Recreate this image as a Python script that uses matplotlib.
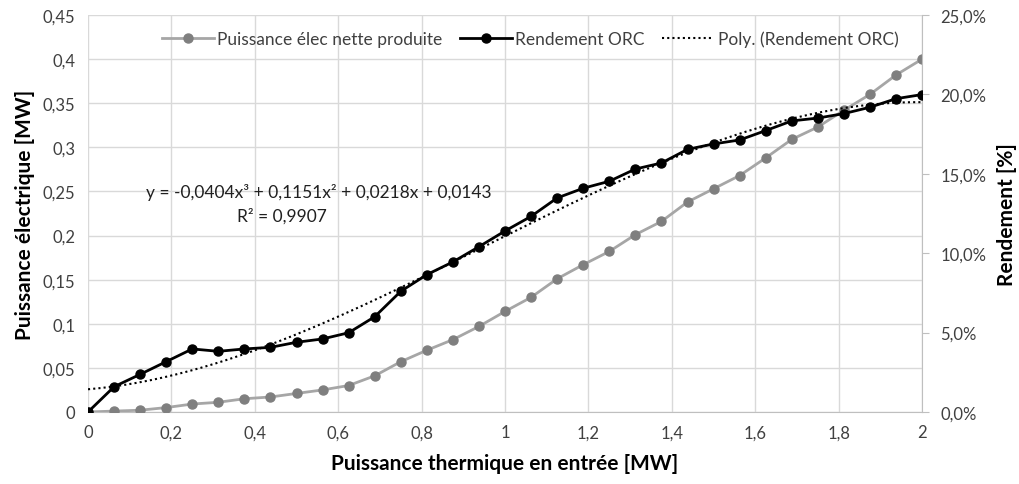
import numpy as np
import matplotlib
matplotlib.use("Agg")
import matplotlib.pyplot as plt
from matplotlib.ticker import FuncFormatter, MultipleLocator

plt.rcParams['font.family'] = ['Lato', 'DejaVu Sans']

# puissance thermique en entrée [MW]
x = np.arange(33) * 0.0625

# puissance électrique nette [MW]
puissance = [0, 0.001, 0.002, 0.005, 0.009, 0.011, 0.015, 0.017, 0.021, 0.025,
             0.030, 0.041, 0.057, 0.070, 0.082, 0.097, 0.114, 0.130, 0.151,
             0.167, 0.182, 0.201, 0.216, 0.238, 0.253, 0.268, 0.288, 0.309,
             0.323, 0.342, 0.360, 0.382, 0.400]

# rendement ORC [fraction]
rendement = [0, 0.0159, 0.0237, 0.0317, 0.0397, 0.0382, 0.0397, 0.0407,
             0.0439, 0.0460, 0.0499, 0.0600, 0.0760, 0.0865, 0.0945, 0.1041,
             0.1140, 0.1232, 0.1348, 0.1409, 0.1453, 0.1530, 0.1568, 0.1654,
             0.1688, 0.1713, 0.1772, 0.1833, 0.1851, 0.1879, 0.1919, 0.1973,
             0.1999]

# coefficients de la courbe de tendance (affichés sur le graphique)
poly_coef = [-0.0404, 0.1151, 0.0218, 0.0143]

fig = plt.figure(figsize=(10.2, 4.85), dpi=100)
ax = fig.add_axes([0.0863, 0.1485, 0.8177, 0.8185])
ax2 = ax.twinx()

ax.set_xlim(0, 2)
ax.set_ylim(0, 0.45)
ax2.set_ylim(0, 0.25)

ax.xaxis.set_major_locator(MultipleLocator(0.2))
ax.yaxis.set_major_locator(MultipleLocator(0.05))
ax2.yaxis.set_major_locator(MultipleLocator(0.05))

def fr(v, pos):
    s = ('%.2f' % v).rstrip('0').rstrip('.')
    return s.replace('.', ',')

ax.xaxis.set_major_formatter(FuncFormatter(fr))
ax.yaxis.set_major_formatter(FuncFormatter(fr))
ax2.yaxis.set_major_formatter(FuncFormatter(lambda v, p: ('%.1f%%' % (v * 100)).replace('.', ',')))

ax.grid(True, color='#D9D9D9', lw=1)
ax.set_axisbelow(True)
for a in (ax, ax2):
    for s in a.spines.values():
        s.set_visible(False)
ax2.spines['right'].set_visible(True)
ax2.spines['right'].set_color('#BFBFBF')
ax.spines['bottom'].set_visible(True)
ax.spines['bottom'].set_color('#BFBFBF')

ax.tick_params(axis='both', length=0, labelsize=12, colors='#404040', pad=9)
ax2.tick_params(axis='y', length=5, color='#BFBFBF', labelsize=12, labelcolor='#404040', pad=8)

l1, = ax.plot(x, puissance, color='#A6A6A6', lw=2, marker='o', ms=6.5,
              mfc='#7F7F7F', mec='#7F7F7F', zorder=3)
xs = np.linspace(0, 2, 200)
l3, = ax2.plot(xs, np.polyval(poly_coef, xs), color='black', lw=1.5, ls=(0, (1, 1.5)), zorder=2)
l2, = ax2.plot(x, rendement, color='black', lw=2, marker='o', ms=6.5, zorder=3)

ax.set_xlabel('Puissance thermique en entrée [MW]', fontsize=15, fontweight='bold', labelpad=9)
ax.set_ylabel('Puissance électrique [MW]', fontsize=15, fontweight='bold', labelpad=6)
ax2.set_ylabel('Rendement [%]', fontsize=15, fontweight='bold', labelpad=8)

ax2.text(0.553, 0.139, 'y = -0,0404x³ + 0,1151x² + 0,0218x + 0,0143',
         ha='center', va='center', fontsize=12.5, color='#202020')
ax2.text(0.464, 0.124, 'R² = 0,9907',
         ha='center', va='center', fontsize=12.5, color='#202020')

leg = ax2.legend([l1, l2, l3], ['Puissance élec nette produite', 'Rendement ORC', 'Poly. (Rendement ORC)'],
                 loc='upper center', bbox_to_anchor=(0.53, 1.0), ncol=3, frameon=False,
                 fontsize=12.5, handlelength=3.0, columnspacing=1.0, handletextpad=0.2)
for t in leg.get_texts():
    t.set_color('#404040')

fig.savefig('out.png', dpi=100)
